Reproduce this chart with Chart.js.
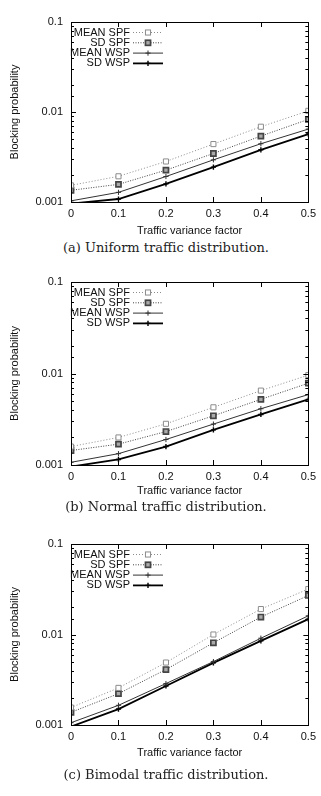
<!DOCTYPE html>
<html>
<head>
<meta charset="utf-8">
<script src="https://cdn.jsdelivr.net/npm/chart.js@4/dist/chart.umd.min.js"></script>
<style>
  body { margin: 0; background: #fff; width: 321px; height: 796px; position: relative; overflow: hidden; }
  .box { position: absolute; left: 0; width: 321px; height: 240px; }
  .cap { position: absolute; left: 0; width: 332px; text-align: center; font-family: "DejaVu Serif", "Liberation Serif", serif; font-size: 13px; color: #222; }
</style>
</head>
<body>
<div class="box" style="top:0px"><canvas id="chartA" width="321" height="240"></canvas></div>
<div class="cap" style="top:240px">(a) Uniform traffic distribution.</div>
<div class="box" style="top:260px"><canvas id="chartB" width="321" height="240"></canvas></div>
<div class="cap" style="top:499px">(b) Normal traffic distribution.</div>
<div class="box" style="top:522px"><canvas id="chartC" width="321" height="240"></canvas></div>
<div class="cap" style="top:767px">(c) Bimodal traffic distribution.</div>
<script>
const xValues = [0, 0.1, 0.2, 0.3, 0.4, 0.5];
const xTickLabels = ['0', '0.1', '0.2', '0.3', '0.4', '0.5'];
const yTickLabels = ['0.001', '0.01', '0.1'];
const seriesNames = ['MEAN SPF', 'SD SPF', 'MEAN WSP', 'SD WSP'];

// (a) uniform
const uniformMeanSpf = [0.00153, 0.00193, 0.00282, 0.0044, 0.00686, 0.0103];
const uniformSdSpf = [0.00135, 0.00157, 0.00226, 0.00346, 0.0054, 0.00828];
const uniformMeanWsp = [0.00103, 0.00128, 0.00192, 0.00294, 0.00444, 0.00646];
const uniformSdWsp = [0.00096, 0.00108, 0.00159, 0.00244, 0.0038, 0.00569];

// (b) normal
const normalMeanSpf = [0.00159, 0.002, 0.00282, 0.00427, 0.0065, 0.0096];
const normalSdSpf = [0.00144, 0.00169, 0.00232, 0.00345, 0.00522, 0.00783];
const normalMeanWsp = [0.00107, 0.00133, 0.0019, 0.0028, 0.00412, 0.00588];
const normalSdWsp = [0.00096, 0.00115, 0.00159, 0.00242, 0.00357, 0.00522];

// (c) bimodal
const bimodalMeanSpf = [0.00156, 0.00257, 0.0049, 0.01, 0.0191, 0.0318];
const bimodalSdSpf = [0.00138, 0.00222, 0.0041, 0.0081, 0.0156, 0.027];
const bimodalMeanWsp = [0.00106, 0.00165, 0.00287, 0.00502, 0.0091, 0.0161];
const bimodalSdWsp = [0.00096, 0.0015, 0.0027, 0.00486, 0.0085, 0.0148];

Chart.defaults.font.family = '"Liberation Sans", Arial, sans-serif';
Chart.defaults.font.size = 11;
Chart.defaults.color = '#111';

const looks = [
  { color: '#8c8c8c', width: 1, dash: [1, 2], point: 'rect', radius: 3.6, fill: '#fff', pw: 1 },
  { color: '#444', width: 1, dash: [1, 1.5], point: 'rect', radius: 3.6, fill: '#aaa', pw: 1.7 },
  { color: '#333', width: 1, dash: [], point: 'cross', radius: 2.6, fill: '#333', pw: 1 },
  { color: '#000', width: 1.8, dash: [], point: 'cross', radius: 2.6, fill: '#000', pw: 1.4 }
];

function isDecade(v) {
  const l = Math.log10(v);
  return Math.abs(l - Math.round(l)) < 1e-6;
}

function drawMark(ctx, lk, x, y) {
  ctx.save();
  ctx.setLineDash([]);
  ctx.strokeStyle = lk.color;
  ctx.lineWidth = lk.pw;
  if (lk.point === 'rect') {
    const s = Math.SQRT1_2 * lk.radius;
    ctx.fillStyle = lk.fill;
    ctx.fillRect(x - s, y - s, 2 * s, 2 * s);
    ctx.strokeRect(x - s, y - s, 2 * s, 2 * s);
  } else {
    ctx.beginPath();
    ctx.moveTo(x - lk.radius, y); ctx.lineTo(x + lk.radius, y);
    ctx.moveTo(x, y - lk.radius); ctx.lineTo(x, y + lk.radius);
    ctx.stroke();
  }
  ctx.restore();
}

const frameTicks = {
  id: 'frameTicks',
  afterDraw(chart) {
    const { ctx, chartArea: a, scales: { x, y } } = chart;
    ctx.save();
    ctx.strokeStyle = '#000';
    ctx.lineWidth = 1;
    ctx.beginPath();
    x.ticks.forEach(t => {
      const px = Math.round(x.getPixelForValue(t.value)) + 0.5;
      ctx.moveTo(px, a.bottom); ctx.lineTo(px, a.bottom - 5);
      ctx.moveTo(px, a.top); ctx.lineTo(px, a.top + 5);
    });
    y.ticks.forEach(t => {
      const py = Math.round(y.getPixelForValue(t.value)) + 0.5;
      const len = isDecade(t.value) ? 5 : 3;
      ctx.moveTo(a.left, py); ctx.lineTo(a.left + len, py);
      ctx.moveTo(a.right, py); ctx.lineTo(a.right - len, py);
    });
    ctx.stroke();
    ctx.strokeRect(Math.round(a.left) + 0.5, Math.round(a.top) + 0.5,
      Math.round(a.right - a.left), Math.round(a.bottom - a.top));

    // gnuplot style key
    ctx.font = '11px "Liberation Sans", Arial, sans-serif';
    ctx.fillStyle = '#111';
    ctx.textAlign = 'right';
    ctx.textBaseline = 'middle';
    chart.data.datasets.forEach((ds, i) => {
      const lk = looks[i];
      const ry = a.top + 10.5 + i * 10.3;
      ctx.fillText(ds.label, a.left + 59, ry);
      ctx.save();
      ctx.strokeStyle = lk.color;
      ctx.lineWidth = lk.width;
      ctx.setLineDash(lk.dash);
      ctx.beginPath();
      ctx.moveTo(a.left + 62, ry); ctx.lineTo(a.left + 92, ry);
      ctx.stroke();
      ctx.restore();
      drawMark(ctx, lk, a.left + 77, ry);
    });
    ctx.restore();
  }
};

function makeChart(id, series, xHeight) {
  new Chart(document.getElementById(id), {
    type: 'line',
    data: {
      datasets: series.map((vals, i) => ({
        label: seriesNames[i],
        data: xValues.map((xv, j) => ({ x: xv, y: vals[j] })),
        borderColor: looks[i].color,
        borderWidth: looks[i].width,
        borderDash: looks[i].dash,
        pointStyle: looks[i].point,
        pointRadius: looks[i].radius,
        pointBorderWidth: looks[i].pw,
        pointBorderColor: looks[i].color,
        pointBackgroundColor: looks[i].fill,
        tension: 0,
        fill: false
      }))
    },
    options: {
      responsive: false,
      animation: false,
      devicePixelRatio: 1,
      layout: { padding: { top: 22, right: 9, left: 0, bottom: 0 } },
      plugins: { legend: { display: false }, tooltip: { enabled: false } },
      scales: {
        x: {
          type: 'linear',
          min: 0,
          max: 0.5,
          afterFit: s => { s.height = xHeight; },
          grid: { display: false, drawTicks: false },
          border: { display: false },
          ticks: {
            stepSize: 0.1,
            padding: 5,
            maxRotation: 0,
            callback: v => xTickLabels[Math.round(v * 10)]
          },
          title: { display: true, text: 'Traffic variance factor', padding: { top: 0, bottom: 2 } }
        },
        y: {
          type: 'logarithmic',
          min: 0.001,
          max: 0.1,
          afterFit: s => { s.width = 71; },
          grid: { display: false, drawTicks: false },
          border: { display: false },
          ticks: {
            autoSkip: false,
            padding: 8,
            callback: v => isDecade(v) ? yTickLabels[Math.round(Math.log10(v)) + 3] : ''
          },
          title: { display: true, text: 'Blocking probability', padding: { top: 8, bottom: 0 } }
        }
      }
    },
    plugins: [frameTicks]
  });
}

makeChart('chartA', [uniformMeanSpf, uniformSdSpf, uniformMeanWsp, uniformSdWsp], 38);
makeChart('chartB', [normalMeanSpf, normalSdSpf, normalMeanWsp, normalSdWsp], 35);
makeChart('chartC', [bimodalMeanSpf, bimodalSdSpf, bimodalMeanWsp, bimodalSdWsp], 37);
</script>
</body>
</html>
